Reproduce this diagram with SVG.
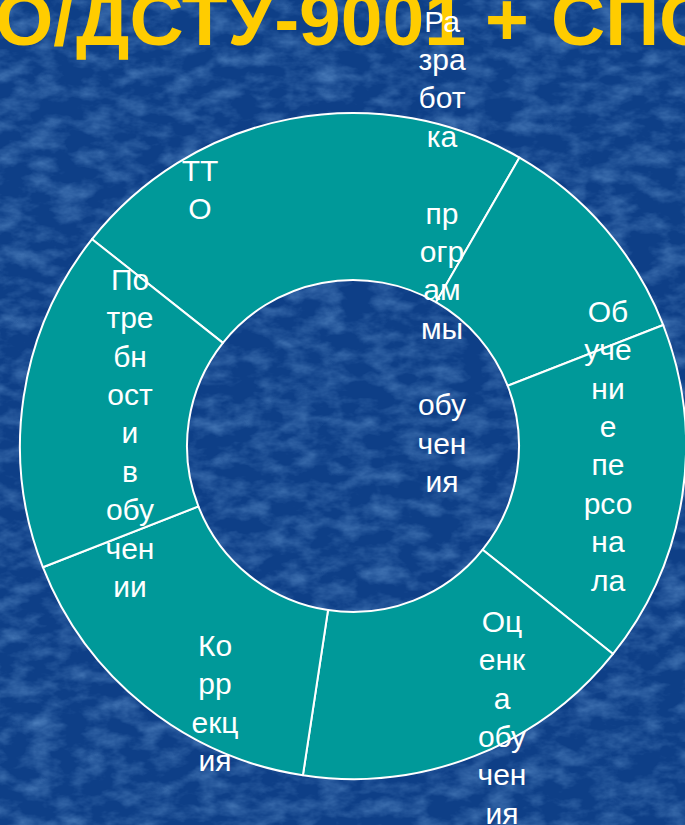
<svg xmlns="http://www.w3.org/2000/svg" width="685" height="825" viewBox="0 0 685 825">
  <defs>
    <filter id="tex" x="0" y="0" width="100%" height="100%">
      <feTurbulence type="fractalNoise" baseFrequency="0.035 0.06" numOctaves="4" seed="11"/>
      <feColorMatrix type="matrix" values="0 0 0 0 0.17  0 0 0 0 0.38  0 0 0 0 0.72  1.0 0 0 0 -0.4"/>
    </filter>
    <style>
      .seg { fill: #009999; stroke: #ffffff; stroke-width: 2; stroke-linejoin: round; }
      .lbl { font-family: "Liberation Sans", Arial, sans-serif; font-size: 30px; fill: #ffffff; text-anchor: middle; }
      .title { font-family: "Liberation Sans", Arial, sans-serif; font-size: 75px; font-weight: bold; fill: #FFCC00; }
    </style>
  </defs>

  <rect width="685" height="825" fill="#0e3f87"/>
  <rect width="685" height="825" filter="url(#tex)"/>

  <text class="title" y="45"><tspan x="-5">О/</tspan><tspan x="76">ДСТУ-</tspan><tspan x="299">9001</tspan><tspan x="485">+</tspan><tspan x="551">СПО</tspan></text>

  <g id="nodes">
    <g id="tto">
      <path class="seg" d="M92.03,239.16 A333,333 0 0 1 519.5,157.6 L436,302.2 A166,166 0 0 0 222.91,342.89 Z"/>
      <text class="lbl"><tspan x="200" y="181">ТТ</tspan><tspan x="200" y="219">О</tspan></text>
    </g>
    <g id="razrabotka">
      <path class="seg" d="M519.5,157.6 A333,333 0 0 1 663.25,325.04 L507.66,385.7 A166,166 0 0 0 436,302.2 Z"/>
      <text class="lbl"><tspan x="442" y="31.7">Ра</tspan><tspan x="442" y="70">зра</tspan><tspan x="442" y="108.4">бот</tspan><tspan x="442" y="146.7">ка</tspan><tspan x="442" y="223.5">пр</tspan><tspan x="442" y="261.8">огр</tspan><tspan x="442" y="300.2">ам</tspan><tspan x="442" y="338.5">мы</tspan><tspan x="442" y="415.2">обу</tspan><tspan x="442" y="453.6">чен</tspan><tspan x="442" y="491.9">ия</tspan></text>
    </g>
    <g id="obuchenie">
      <path class="seg" d="M663.25,325.04 A333,333 0 0 1 613.05,653.99 L482.64,549.68 A166,166 0 0 0 507.66,385.7 Z"/>
      <text class="lbl"><tspan x="608" y="322">Об</tspan><tspan x="608" y="360.4">уче</tspan><tspan x="608" y="398.7">ни</tspan><tspan x="608" y="437">е</tspan><tspan x="608" y="475.4">пе</tspan><tspan x="608" y="513.8">рсо</tspan><tspan x="608" y="552">на</tspan><tspan x="608" y="590.5">ла</tspan></text>
    </g>
    <g id="ocenka">
      <path class="seg" d="M613.05,653.99 A333,333 0 0 1 302.92,775.21 L328.03,610.11 A166,166 0 0 0 482.64,549.68 Z"/>
      <text class="lbl"><tspan x="502" y="632">Оц</tspan><tspan x="502" y="670.4">енк</tspan><tspan x="502" y="708.7">а</tspan><tspan x="502" y="747">обу</tspan><tspan x="502" y="785.4">чен</tspan><tspan x="502" y="823.8">ия</tspan></text>
    </g>
    <g id="korrekciya">
      <path class="seg" d="M302.92,775.21 A333,333 0 0 1 42.85,567.23 L198.39,506.43 A166,166 0 0 0 328.03,610.11 Z"/>
      <text class="lbl"><tspan x="215" y="656">Ко</tspan><tspan x="215" y="694.4">рр</tspan><tspan x="215" y="732.7">екц</tspan><tspan x="215" y="771">ия</tspan></text>
    </g>
    <g id="potrebnosti">
      <path class="seg" d="M42.85,567.23 A333,333 0 0 1 92.03,239.16 L222.91,342.89 A166,166 0 0 0 198.39,506.43 Z"/>
      <text class="lbl"><tspan x="130" y="290">По</tspan><tspan x="130" y="328.4">тре</tspan><tspan x="130" y="366.7">бн</tspan><tspan x="130" y="405">ост</tspan><tspan x="130" y="443.4">и</tspan><tspan x="130" y="481.8">в</tspan><tspan x="130" y="520">обу</tspan><tspan x="130" y="558.5">чен</tspan><tspan x="130" y="596.9">ии</tspan></text>
    </g>
  </g>
  <g id="connectors"/>
</svg>
